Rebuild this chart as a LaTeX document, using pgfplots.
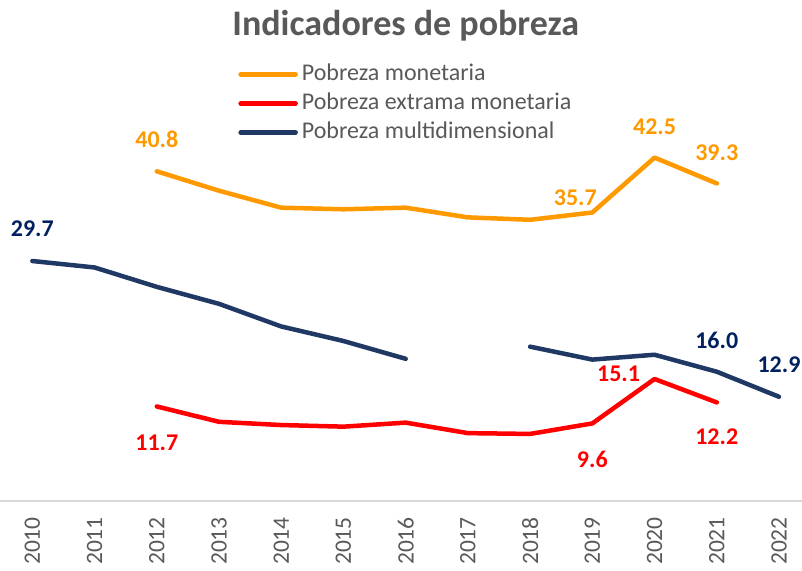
\documentclass[border=0pt]{standalone}
\usepackage{pgfplots}
\pgfplotsset{compat=1.18}
\usepackage{fontspec}
\setmainfont{Carlito}
\definecolor{cOr}{RGB}{255,153,0}
\definecolor{cRed}{RGB}{255,0,0}
\definecolor{cNavy}{RGB}{31,56,100}
\definecolor{cNavyL}{RGB}{0,32,96}
\definecolor{cGray}{RGB}{89,89,89}
\definecolor{cAxis}{RGB}{217,217,217}
\begin{document}
\begin{tikzpicture}[lbl/.style={font=\fontsize{24bp}{28bp}\selectfont\bfseries, inner sep=0pt, anchor=center}]
\begin{axis}[
  scale only axis, width=802bp, height=501bp,
  xmin=-0.52, xmax=12.37, ymin=0, ymax=62,
  axis x line=bottom, axis y line=none,
  x axis line style={cAxis, line width=1.5bp, -},
  xtick={0,...,12},
  xticklabels={2010,2011,2012,2013,2014,2015,2016,2017,2018,2019,2020,2021,2022},
  major tick length=0pt,
  x tick label style={rotate=90, anchor=east, inner sep=0pt, text=cGray,
     font=\fontsize{23.5bp}{27bp}\selectfont},
  xticklabel shift=16bp,
  clip=false,
  unbounded coords=jump,
  every axis plot/.append style={line width=4.5bp, line cap=round, line join=round},
  legend cell align=left,
  legend style={at={(rel axis cs:0.297,0.874)}, anchor=north west, draw=none, fill=none,
     font=\fontsize{24bp}{28bp}\selectfont, text=cGray, inner sep=0pt, row sep=7bp, column sep=4bp,
     nodes={inner sep=0pt, text height=17bp, text depth=5bp}},
  legend image code/.code={\draw[#1] (0bp,0bp) -- (55bp,0bp);},
]
\addplot[cOr] coordinates {(2,40.8) (3,38.4) (4,36.3) (5,36.1) (6,36.3) (7,35.1) (8,34.8) (9,35.7) (10,42.5) (11,39.3)};
\addlegendentry{Pobreza monetaria}
\addplot[cRed] coordinates {(2,11.7) (3,9.8) (4,9.4) (5,9.2) (6,9.7) (7,8.4) (8,8.3) (9,9.6) (10,15.1) (11,12.2)};
\addlegendentry{Pobreza extrama monetaria}
\addplot[cNavy] coordinates {(0,29.7) (1,28.9) (2,26.5) (3,24.4) (4,21.6) (5,19.8) (6,17.6) (7,nan) (8,19.1) (9,17.5) (10,18.1) (11,16.0) (12,12.9)};
\addlegendentry{Pobreza multidimensional}

\node[font=\fontsize{36bp}{40bp}\selectfont\bfseries, text=cGray, anchor=base] at (rel axis cs:0.506,0.930) {Indicadores de pobreza};

\node[lbl, text=cOr, yshift=32bp] at (axis cs:2,40.8) {40.8};
\node[lbl, text=cOr, xshift=-17bp, yshift=15bp] at (axis cs:9,35.7) {35.7};
\node[lbl, text=cOr, yshift=31bp] at (axis cs:10,42.5) {42.5};
\node[lbl, text=cOr, yshift=31bp] at (axis cs:11,39.3) {39.3};
\node[lbl, text=cNavyL, yshift=32bp] at (axis cs:0,29.7) {29.7};
\node[lbl, text=cNavyL, yshift=31bp] at (axis cs:11,16.0) {16.0};
\node[lbl, text=cNavyL, yshift=32bp] at (axis cs:12,12.9) {12.9};
\node[lbl, text=cRed, yshift=-36bp] at (axis cs:2,11.7) {11.7};
\node[lbl, text=cRed, yshift=-36bp] at (axis cs:9,9.6) {9.6};
\node[lbl, text=cRed, xshift=-36bp, yshift=5bp] at (axis cs:10,15.1) {15.1};
\node[lbl, text=cRed, yshift=-34bp] at (axis cs:11,12.2) {12.2};
\end{axis}
\pgfresetboundingbox
\path (0bp,-70bp) rectangle (802bp,501bp);
\end{tikzpicture}
\end{document}
